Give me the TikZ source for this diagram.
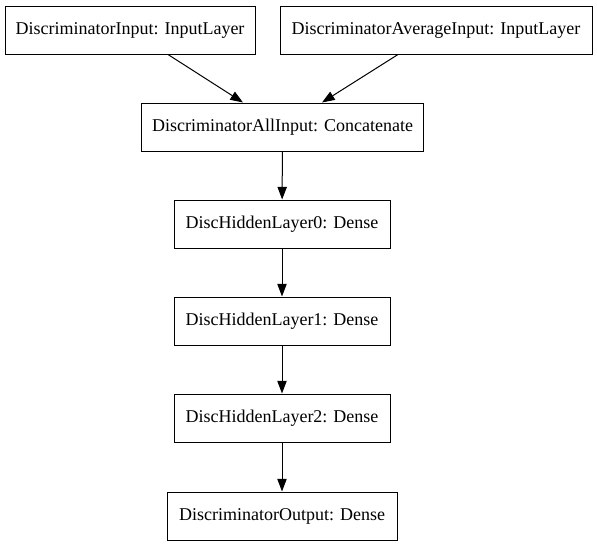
\documentclass[tikz,border=0pt]{standalone}
\usepackage{fontspec}
\setmainfont{Liberation Serif}
\usetikzlibrary{arrows.meta,calc}
\begin{document}
\begin{tikzpicture}[x=0.75pt,y=-0.75pt,
  layer/.style={draw=black,line width=0.75pt,fill=white,inner sep=0pt,
    minimum height=36pt,font=\fontsize{13.5pt}{16pt}\selectfont},
  arr/.style={draw=black,line width=0.75pt,-{Triangle[length=9.5pt,width=7pt]}}]
\fill[white] (0,0) rectangle (597,547);
\useasboundingbox (0,0) rectangle (597,547);
\node[layer,minimum width=187.5pt] (b1) at (130,30) {DiscriminatorInput: InputLayer};
\node[layer,minimum width=234pt] (b2) at (436,30) {DiscriminatorAverageInput: InputLayer};
\node[layer,minimum width=212pt] (b3) at (282.5,127) {DiscriminatorAllInput: Concatenate};
\node[layer,minimum width=162pt] (b4) at (282,224) {DiscHiddenLayer0: Dense};
\node[layer,minimum width=162pt] (b5) at (282,321) {DiscHiddenLayer1: Dense};
\node[layer,minimum width=162pt] (b6) at (282,418) {DiscHiddenLayer2: Dense};
\node[layer,minimum width=172.5pt] (b7) at (282,516) {DiscriminatorOutput: Dense};
\draw[arr] ($(b1.south)+(38,0)$) -- ($(b3.north)+(-39.5,0)$);
\draw[arr] ($(b2.south)+(-38,0)$) -- ($(b3.north)+(39.5,0)$);
\draw[arr] (b3) -- (b4);
\draw[arr] (b4) -- (b5);
\draw[arr] (b5) -- (b6);
\draw[arr] (b6) -- (b7);
\end{tikzpicture}
\end{document}
